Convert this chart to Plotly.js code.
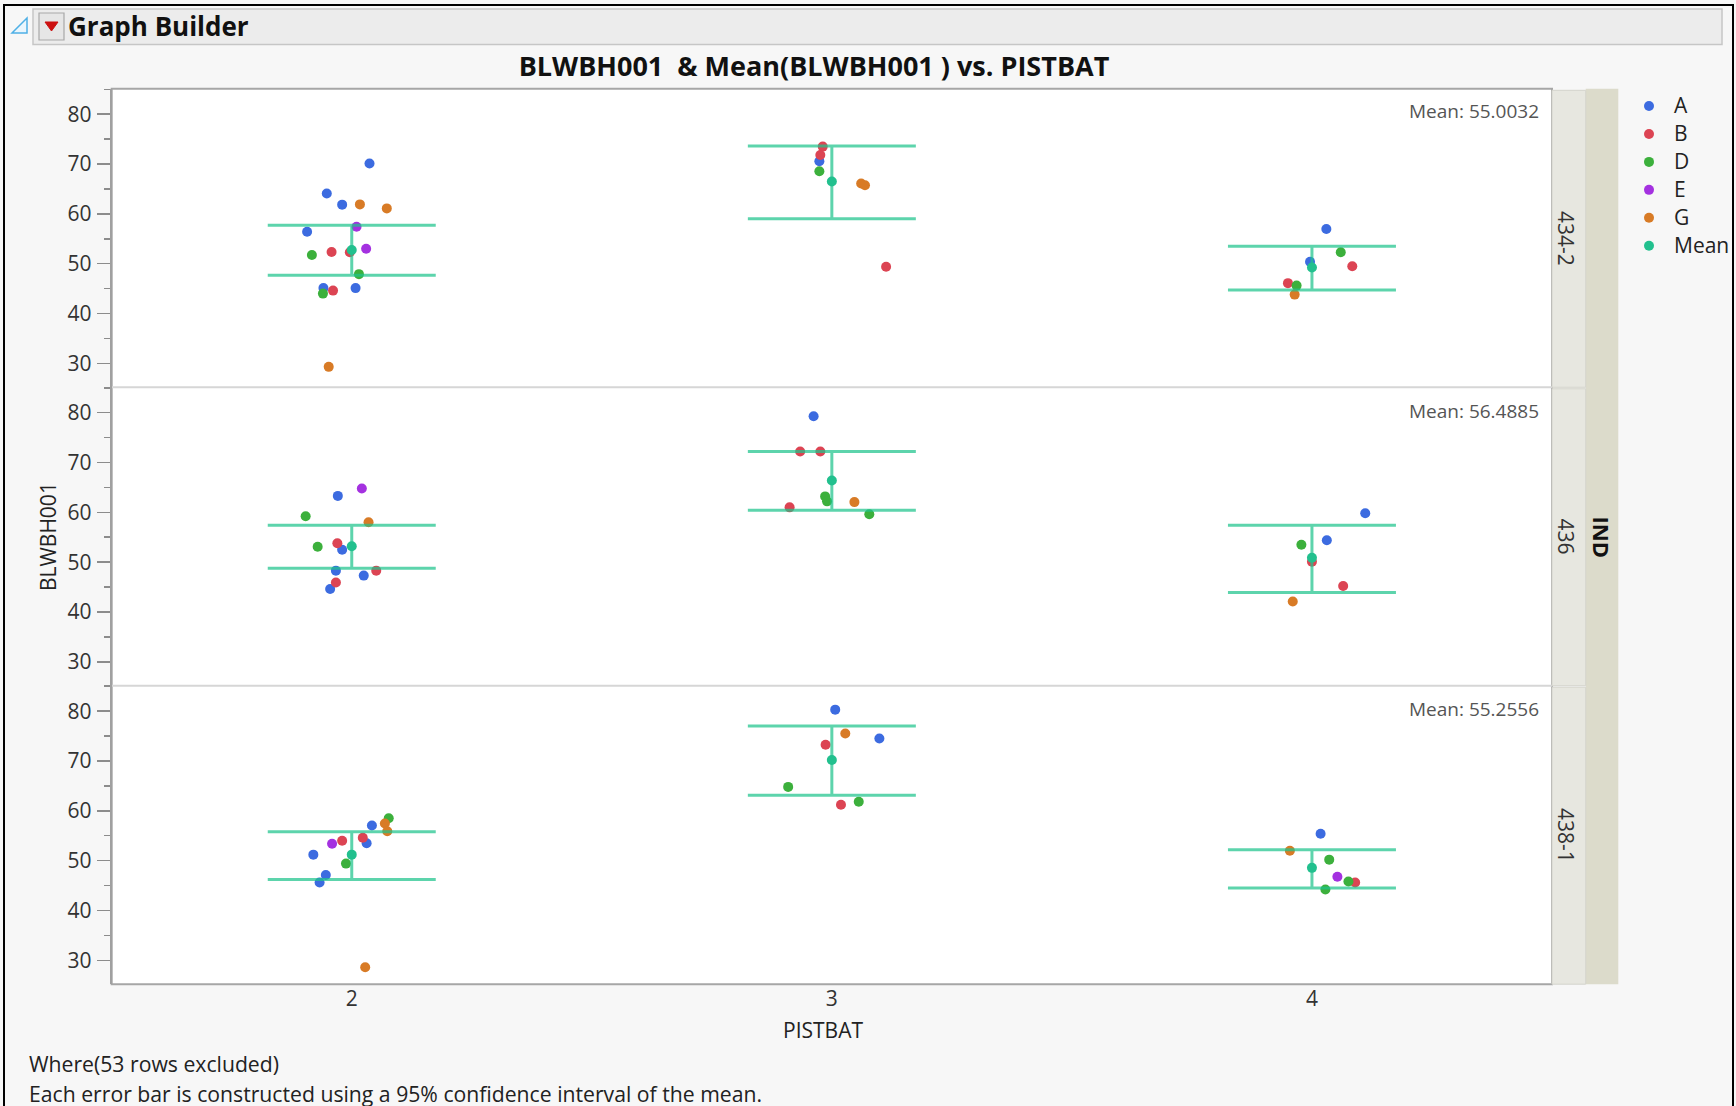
<!DOCTYPE html>
<html><head><meta charset="utf-8">
<script src="https://cdn.plot.ly/plotly-3.0.1.min.js"></script>
<style>html,body{margin:0;padding:0;background:#fff;}#chart{width:1736px;height:1106px;}</style>
</head><body><div id="chart"></div>
<script>
// ---------------- data ----------------
const pistbatLevels = [2, 3, 4];
const pistbatLabels = ['2', '3', '4'];
const indLevels = ['434-2', '436', '438-1'];
const groupNames = ['A', 'B', 'D', 'E', 'G'];
const overallMeans = ['55.0032', '56.4885', '55.2556'];
const yTickVals = [30, 40, 50, 60, 70, 80];

// IND = 434-2
const p1Group  = ['A','A','A','A','A','A','B','B','B','D','D','D','E','E','G','G','G',
                  'B','B','B','A','D','G','G',
                  'A','A','D','D','B','B','G'];
const p1Pist   = [2,2,2,2,2,2,2,2,2,2,2,2,2,2,2,2,2,
                  3,3,3,3,3,3,3,
                  4,4,4,4,4,4,4];
const p1Jitter = [0.037,-0.052,-0.020,-0.093,-0.059,0.008,-0.042,-0.004,-0.039,-0.083,0.015,-0.060,0.010,0.030,0.017,0.073,-0.048,
                  -0.019,-0.024,0.113,-0.026,-0.026,0.061,0.069,
                  0.030,-0.004,0.060,-0.032,0.084,-0.050,-0.036];
const p1Value  = [70.1,64.1,61.85,56.4,45.1,45.1,52.35,52.3,44.6,51.75,47.9,44.0,57.4,53.0,61.9,61.1,29.3,
                  73.5,71.8,49.4,70.55,68.55,66.1,65.75,
                  56.95,50.4,52.3,45.6,49.5,46.1,43.8];
const p1Mean  = [52.75, 66.5, 49.25];
const p1Upper = [57.7, 73.6, 53.5];
const p1Lower = [47.7, 59.0, 44.7];

// IND = 436
const p2Group  = ['E','A','A','A','A','A','D','D','G','B','B','B',
                  'A','B','B','B','D','D','D','G',
                  'A','A','D','B','B','G'];
const p2Pist   = [2,2,2,2,2,2,2,2,2,2,2,2,
                  3,3,3,3,3,3,3,3,
                  4,4,4,4,4,4];
const p2Jitter = [0.021,-0.029,-0.020,-0.033,0.025,-0.045,-0.096,-0.071,0.035,-0.030,0.051,-0.033,
                  -0.038,-0.066,-0.024,-0.088,-0.014,-0.010,0.078,0.047,
                  0.111,0.031,-0.022,0.000,0.065,-0.040];
const p2Value  = [64.8,63.3,52.5,48.3,47.3,44.6,59.2,53.1,58.0,53.8,48.3,45.9,
                  79.3,72.2,72.2,61.0,63.2,62.2,59.6,62.05,
                  59.8,54.4,53.5,50.1,45.2,42.1];
const p2Mean  = [53.2, 66.4, 50.9];
const p2Upper = [57.4, 72.2, 57.4];
const p2Lower = [48.8, 60.4, 43.9];

// IND = 438-1
const p3Group  = ['D','D','G','G','G','A','A','A','A','A','B','B','E',
                  'A','A','G','B','B','D','D',
                  'A','G','D','D','D','E','B'];
const p3Pist   = [2,2,2,2,2,2,2,2,2,2,2,2,2,
                  3,3,3,3,3,3,3,
                  4,4,4,4,4,4,4];
const p3Jitter = [0.077,-0.012,0.069,0.074,0.028,0.042,0.031,-0.080,-0.054,-0.067,0.023,-0.020,-0.041,
                  0.007,0.099,0.028,-0.013,0.019,-0.091,0.056,
                  0.018,-0.046,0.036,0.076,0.028,0.053,0.090];
const p3Value  = [58.5,49.4,57.45,55.9,28.6,57.05,53.5,51.2,47.1,45.6,54.6,54.0,53.4,
                  80.3,74.5,75.5,73.25,61.2,64.8,61.8,
                  55.4,52.0,50.2,45.8,44.2,46.75,45.6];
const p3Mean  = [51.2, 70.2, 48.55];
const p3Upper = [55.8, 77.0, 52.2];
const p3Lower = [46.2, 63.1, 44.5];

// ---------------- build ----------------
const W = 1736, H = 1106;
const fx = v => v / W;
const fy = v => 1 - v / H;
const FONT = 'Open Sans, Segoe UI, sans-serif';
const colors = {A:'#3c6be0', B:'#dc4453', D:'#3cb03c', E:'#a431e0', G:'#d87b26', Mean:'#22c08e'};
const legendName = s => '<span style="font-size:21px">' + s + '</span>';

const panels = [
  {group:p1Group, pist:p1Pist, jit:p1Jitter, val:p1Value, mean:p1Mean, up:p1Upper, lo:p1Lower},
  {group:p2Group, pist:p2Pist, jit:p2Jitter, val:p2Value, mean:p2Mean, up:p2Upper, lo:p2Lower},
  {group:p3Group, pist:p3Pist, jit:p3Jitter, val:p3Value, mean:p3Mean, up:p3Upper, lo:p3Lower}
];
const yNames = ['y', 'y2', 'y3'];

const traces = [];
groupNames.forEach(g => {
  panels.forEach((p, i) => {
    const idx = [];
    p.group.forEach((gg, k) => { if (gg === g) idx.push(k); });
    traces.push({
      type:'scatter', mode:'markers', name:legendName(g), legendgroup:g, showlegend:i === 0,
      xaxis:'x', yaxis:yNames[i],
      x: idx.map(k => p.pist[k] + p.jit[k]),
      y: idx.map(k => p.val[k]),
      marker:{size:10, color:colors[g]}
    });
  });
});
panels.forEach((p, i) => {
  traces.push({
    type:'scatter', mode:'markers', name:legendName('Mean'), legendgroup:'Mean', showlegend:i === 0,
    xaxis:'x', yaxis:yNames[i],
    x: pistbatLevels, y: p.mean,
    error_y:{type:'data', symmetric:false,
      array: p.up.map((u, k) => u - p.mean[k]),
      arrayminus: p.mean.map((m, k) => m - p.lo[k]),
      width:84, thickness:3, color:'rgba(30,195,140,0.72)'},
    marker:{size:10, color:colors.Mean}
  });
});

// geometry (pixels)
const plotL = 111.7, plotR = 1552, plotT = 88.8, plotB = 984.2;
const ph = (plotB - plotT) / 3;
const pTop = [plotT, plotT + ph, plotT + 2 * ph];

function yAxis(i) {
  return {
    domain:[fy(pTop[i] + ph), fy(pTop[i])],
    range:[25.2, 85.1], anchor:'x',
    tickmode:'array', tickvals:yTickVals,
    ticks:'outside', ticklen:13, tickwidth:1.5, tickcolor:'#8c8c8c',
    minor:{dtick:5, tick0:0, ticks:'outside', ticklen:6, tickwidth:1.5, tickcolor:'#8c8c8c', showgrid:false},
    showgrid:false, zeroline:false, showline:true, linecolor:'#a0a0a0', linewidth:2,
    ticklabelstandoff:1,
    tickfont:{family:FONT, size:21, color:'#333'}, fixedrange:true
  };
}

const shapes = [
  {type:'rect', xref:'paper', yref:'paper', x0:fx(4), x1:fx(1733), y0:fy(1112), y1:fy(5), line:{color:'#000', width:2}, layer:'below'},
  {type:'rect', xref:'paper', yref:'paper', x0:fx(33), x1:fx(1722), y0:fy(44.5), y1:fy(9), fillcolor:'#ececec', line:{color:'#c6c6c6', width:1.5}, layer:'below'},
  {type:'path', xref:'paper', yref:'paper',
   path:`M ${fx(12)} ${fy(33)} L ${fx(27)} ${fy(33)} L ${fx(27)} ${fy(18)} Z`,
   fillcolor:'#eaf6fd', line:{color:'#4fb0e6', width:1.5}, layer:'below'},
  {type:'rect', xref:'paper', yref:'paper', x0:fx(39), x1:fx(64), y0:fy(40), y1:fy(13), fillcolor:'#e6e6e6', line:{color:'#a8a8a8', width:1.2}, layer:'below'},
  {type:'path', xref:'paper', yref:'paper',
   path:`M ${fx(45)} ${fy(22)} L ${fx(58)} ${fy(22)} L ${fx(51.5)} ${fy(31)} Z`,
   fillcolor:'#cc1111', line:{color:'#cc1111', width:1}, layer:'below'},
  {type:'rect', xref:'paper', yref:'paper', x0:fx(plotL), x1:fx(plotR), y0:fy(plotB), y1:fy(plotT), line:{color:'#a6a6a6', width:2}, layer:'below'},
  {type:'line', xref:'paper', yref:'paper', x0:fx(plotL), x1:fx(plotR), y0:fy(pTop[1]), y1:fy(pTop[1]), line:{color:'#d6d6d6', width:2}, layer:'below'},
  {type:'line', xref:'paper', yref:'paper', x0:fx(plotL), x1:fx(plotR), y0:fy(pTop[2]), y1:fy(pTop[2]), line:{color:'#d6d6d6', width:2}, layer:'below'},
  {type:'rect', xref:'paper', yref:'paper', x0:fx(1585.7), x1:fx(1618.3), y0:fy(plotB), y1:fy(plotT), fillcolor:'#dcdbcb', line:{width:0}, layer:'below'}
];
for (let i = 0; i < 3; i++) {
  shapes.push({type:'rect', xref:'paper', yref:'paper', x0:fx(plotR), x1:fx(1585.7), y0:fy(pTop[i] + ph), y1:fy(pTop[i] + 1.5), fillcolor:'#e7e7e0', line:{color:'#d4d4cc', width:1}, layer:'below'});
}

const annotations = [
  {text:'<b>Graph Builder</b>', xref:'paper', yref:'paper', x:fx(66), y:fy(26), xanchor:'left', yanchor:'middle', showarrow:false, font:{family:FONT, size:26, color:'#111'}},
  {text:'BLWBH001', xref:'paper', yref:'paper', x:fx(47.6), y:fy(536.5), textangle:-90, xanchor:'center', yanchor:'middle', showarrow:false, font:{family:FONT, size:21, color:'#222'}},
  {text:'PISTBAT', xref:'paper', yref:'paper', x:fx(822.6), y:fy(1029.6), xanchor:'center', yanchor:'middle', showarrow:false, font:{family:FONT, size:21, color:'#222'}},
  {text:'<b>IND</b>', xref:'paper', yref:'paper', x:fx(1602), y:fy(536.5), textangle:90, xanchor:'center', yanchor:'middle', showarrow:false, font:{family:FONT, size:22, color:'#111'}},
  {text:'Where(53 rows excluded)', xref:'paper', yref:'paper', x:fx(26.8), y:fy(1063.5), xanchor:'left', yanchor:'middle', showarrow:false, font:{family:FONT, size:21.2, color:'#222'}},
  {text:'Each error bar is constructed using a 95% confidence interval of the mean.', xref:'paper', yref:'paper', x:fx(26.8), y:fy(1093), xanchor:'left', yanchor:'middle', showarrow:false, font:{family:FONT, size:21.2, color:'#222'}}
];
const meanLabelY = [110.7, 410.7, 708.5];
for (let i = 0; i < 3; i++) {
  annotations.push({text:'Mean: ' + overallMeans[i], xref:'paper', yref:'paper', x:fx(1541), y:fy(meanLabelY[i]), xanchor:'right', yanchor:'middle', showarrow:false, font:{family:FONT, size:19, color:'#555'}});
  annotations.push({text:indLevels[i], xref:'paper', yref:'paper', x:fx(1566), y:fy(pTop[i] + ph / 2), textangle:90, xanchor:'center', yanchor:'middle', showarrow:false, font:{family:FONT, size:21, color:'#333'}});
}

const layout = {
  width:W, height:H, margin:{l:0, r:0, t:0, b:0},
  paper_bgcolor:'#f7f7f7', plot_bgcolor:'#ffffff',
  font:{family:FONT, color:'#222'},
  title:{text:'<b>BLWBH001\u00a0 & Mean(BLWBH001 ) vs. PISTBAT</b>', xref:'container', yref:'container', x:fx(814), y:fy(66.4), xanchor:'center', yanchor:'middle', font:{family:FONT, size:27, color:'#111'}},
  xaxis:{domain:[fx(plotL), fx(plotR)], range:[1.5, 4.5], anchor:'y3',
    tickmode:'array', tickvals:pistbatLevels, ticktext:pistbatLabels,
    ticks:'', showgrid:false, zeroline:false, showline:false,
    tickfont:{family:FONT, size:21, color:'#333'}, fixedrange:true},
  yaxis: yAxis(0),
  yaxis2: yAxis(1),
  yaxis3: yAxis(2),
  showlegend:true,
  legend:{x:fx(1624), y:fy(87), xanchor:'left', yanchor:'top', bgcolor:'rgba(0,0,0,0)', borderwidth:0,
    traceorder:'normal', font:{family:FONT, size:19.2, color:'#222'}, itemwidth:40},
  shapes:shapes, annotations:annotations
};

Plotly.newPlot('chart', traces, layout, {displayModeBar:false, staticPlot:true});
</script></body></html>
